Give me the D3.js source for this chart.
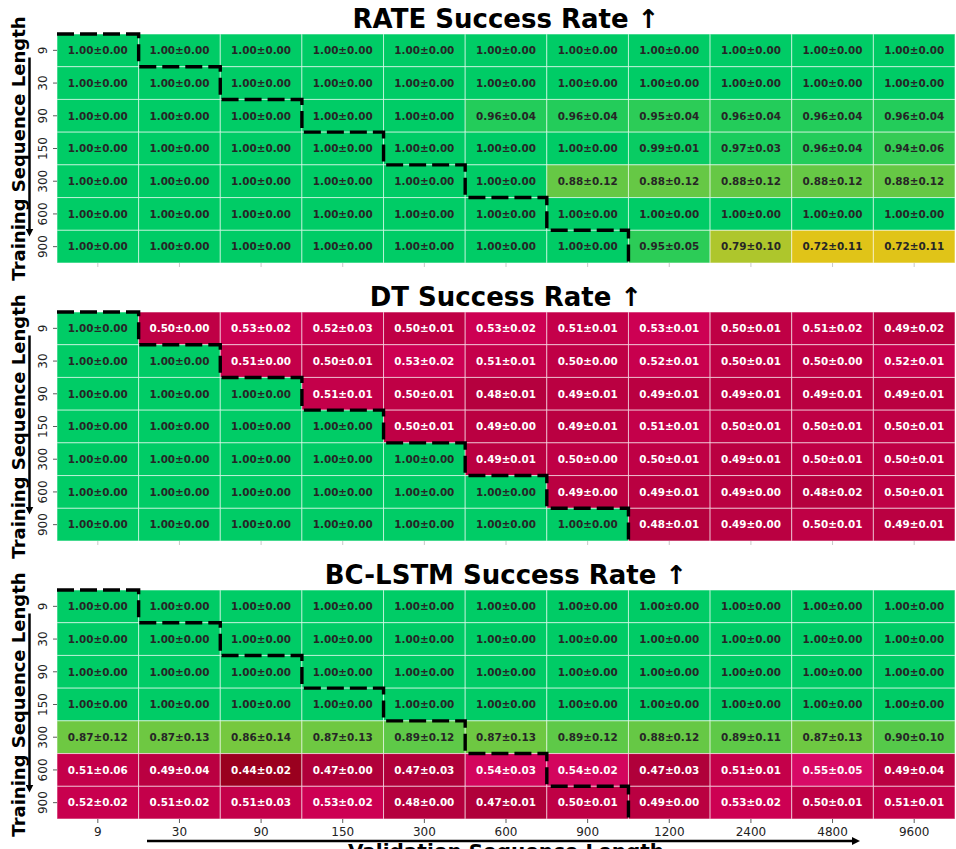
<!DOCTYPE html>
<html>
<head>
<meta charset="utf-8">
<script src="https://cdn.jsdelivr.net/npm/d3@7"></script>
<style>
  html, body { margin: 0; padding: 0; background: #fff; }
  svg { display: block; }
</style>
</head>
<body>
<svg id="chart" width="956" height="849"></svg>
<script>
// ---------- DATA ----------
const validationLengths = ["9", "30", "90", "150", "300", "600", "900", "1200", "2400", "4800", "9600"];
const trainingLengths = ["9", "30", "90", "150", "300", "600", "900"];
const panelTitles = ["RATE Success Rate \u2191", "DT Success Rate \u2191", "BC-LSTM Success Rate \u2191"];

const rateMean = [
  [1.00,1.00,1.00,1.00,1.00,1.00,1.00,1.00,1.00,1.00,1.00],
  [1.00,1.00,1.00,1.00,1.00,1.00,1.00,1.00,1.00,1.00,1.00],
  [1.00,1.00,1.00,1.00,1.00,0.96,0.96,0.95,0.96,0.96,0.96],
  [1.00,1.00,1.00,1.00,1.00,1.00,1.00,0.99,0.97,0.96,0.94],
  [1.00,1.00,1.00,1.00,1.00,1.00,0.88,0.88,0.88,0.88,0.88],
  [1.00,1.00,1.00,1.00,1.00,1.00,1.00,1.00,1.00,1.00,1.00],
  [1.00,1.00,1.00,1.00,1.00,1.00,1.00,0.95,0.79,0.72,0.72]
];
const rateStd = [
  [0,0,0,0,0,0,0,0,0,0,0],
  [0,0,0,0,0,0,0,0,0,0,0],
  [0,0,0,0,0,0.04,0.04,0.04,0.04,0.04,0.04],
  [0,0,0,0,0,0,0,0.01,0.03,0.04,0.06],
  [0,0,0,0,0,0,0.12,0.12,0.12,0.12,0.12],
  [0,0,0,0,0,0,0,0,0,0,0],
  [0,0,0,0,0,0,0,0.05,0.10,0.11,0.11]
];

const dtMean = [
  [1.00,0.50,0.53,0.52,0.50,0.53,0.51,0.53,0.50,0.51,0.49],
  [1.00,1.00,0.51,0.50,0.53,0.51,0.50,0.52,0.50,0.50,0.52],
  [1.00,1.00,1.00,0.51,0.50,0.48,0.49,0.49,0.49,0.49,0.49],
  [1.00,1.00,1.00,1.00,0.50,0.49,0.49,0.51,0.50,0.50,0.50],
  [1.00,1.00,1.00,1.00,1.00,0.49,0.50,0.50,0.49,0.50,0.50],
  [1.00,1.00,1.00,1.00,1.00,1.00,0.49,0.49,0.49,0.48,0.50],
  [1.00,1.00,1.00,1.00,1.00,1.00,1.00,0.48,0.49,0.50,0.49]
];
const dtStd = [
  [0,0.00,0.02,0.03,0.01,0.02,0.01,0.01,0.01,0.02,0.02],
  [0,0,0.00,0.01,0.02,0.01,0.00,0.01,0.01,0.00,0.01],
  [0,0,0,0.01,0.01,0.01,0.01,0.01,0.01,0.01,0.01],
  [0,0,0,0,0.01,0.00,0.01,0.01,0.01,0.01,0.01],
  [0,0,0,0,0,0.01,0.00,0.01,0.01,0.01,0.01],
  [0,0,0,0,0,0,0.00,0.01,0.00,0.02,0.01],
  [0,0,0,0,0,0,0,0.01,0.00,0.01,0.01]
];

const lstmMean = [
  [1.00,1.00,1.00,1.00,1.00,1.00,1.00,1.00,1.00,1.00,1.00],
  [1.00,1.00,1.00,1.00,1.00,1.00,1.00,1.00,1.00,1.00,1.00],
  [1.00,1.00,1.00,1.00,1.00,1.00,1.00,1.00,1.00,1.00,1.00],
  [1.00,1.00,1.00,1.00,1.00,1.00,1.00,1.00,1.00,1.00,1.00],
  [0.87,0.87,0.86,0.87,0.89,0.87,0.89,0.88,0.89,0.87,0.90],
  [0.51,0.49,0.44,0.47,0.47,0.54,0.54,0.47,0.51,0.55,0.49],
  [0.52,0.51,0.51,0.53,0.48,0.47,0.50,0.49,0.53,0.50,0.51]
];
const lstmStd = [
  [0,0,0,0,0,0,0,0,0,0,0],
  [0,0,0,0,0,0,0,0,0,0,0],
  [0,0,0,0,0,0,0,0,0,0,0],
  [0,0,0,0,0,0,0,0,0,0,0],
  [0.12,0.13,0.14,0.13,0.12,0.13,0.12,0.12,0.11,0.13,0.10],
  [0.06,0.04,0.02,0.00,0.03,0.03,0.02,0.03,0.01,0.05,0.04],
  [0.02,0.02,0.03,0.02,0.00,0.01,0.01,0.00,0.02,0.01,0.01]
];

const panelMeans = [rateMean, dtMean, lstmMean];
const panelStds = [rateStd, dtStd, lstmStd];

// ---------- LAYOUT ----------
const svg = d3.select("#chart");
const left = 57, right = 955;
const panelTops = [34, 312, 590];
const panelH = 229;
const font = "'DejaVu Sans', sans-serif";

const x = d3.scaleBand().domain(validationLengths).range([left, right]);

const color = d3.scaleLinear()
  .domain([0.44, 0.47, 0.50, 0.53, 0.55, 0.72, 0.79, 0.88, 0.95, 1.00])
  .range(["#9a001f", "#b0003a", "#bf0045", "#cd0053", "#d80a66", "#e0c418", "#aec62c", "#66c845", "#2ccc57", "#00cc66"])
  .clamp(true);

const defs = svg.append("defs");
defs.append("marker")
  .attr("id", "arrowDown").attr("viewBox", "0 0 10 10")
  .attr("refX", 5).attr("refY", 5).attr("markerWidth", 3.2).attr("markerHeight", 3.2)
  .attr("orient", "auto")
  .append("path").attr("d", "M0,0 L10,5 L0,10 z").attr("fill", "#000");

panelTitles.forEach((title, p) => {
  const top = panelTops[p];
  const y = d3.scaleBand().domain(trainingLengths).range([top, top + panelH]);
  const g = svg.append("g");
  const cells = [];
  trainingLengths.forEach((t, i) => validationLengths.forEach((v, j) => {
    cells.push({t, v, m: panelMeans[p][i][j], s: panelStds[p][i][j]});
  }));

  g.selectAll("rect.cell").data(cells).join("rect")
    .attr("class", "cell")
    .attr("x", d => x(d.v)).attr("y", d => y(d.t))
    .attr("width", x.bandwidth()).attr("height", y.bandwidth())
    .attr("fill", d => color(d.m))
    .attr("stroke", "rgba(255,255,255,0.55)").attr("stroke-width", 1);

  g.selectAll("text.val").data(cells).join("text")
    .attr("class", "val")
    .attr("x", d => x(d.v) + x.bandwidth() / 2)
    .attr("y", d => y(d.t) + y.bandwidth() / 2)
    .attr("dy", "0.36em")
    .attr("text-anchor", "middle")
    .attr("font-family", font).attr("font-weight", "bold").attr("font-size", "10.4px")
    .attr("fill", d => d.m < 0.65 ? "#ffffff" : "#262626")
    .text(d => d.m.toFixed(2) + "\u00b1" + d.s.toFixed(2));

  // staircase dashed line
  const pts = [];
  trainingLengths.forEach((t, i) => {
    const xs = x(validationLengths[i]);
    const xe = xs + x.bandwidth();
    pts.push([xs, y(t)]);
    pts.push([xe, y(t)]);
    pts.push([xe, y(t) + y.bandwidth()]);
  });
  g.append("path")
    .attr("d", d3.line()(pts))
    .attr("fill", "none").attr("stroke", "#000")
    .attr("stroke-width", 3.4).attr("stroke-dasharray", "17,6");

  // title
  svg.append("text")
    .attr("x", (left + right) / 2).attr("y", top - 6)
    .attr("text-anchor", "middle")
    .attr("font-family", font).attr("font-weight", "bold").attr("font-size", "26px")
    .attr("fill", "#000")
    .text(title);

  // y axis
  const yAxis = d3.axisLeft(y).tickSize(4).tickPadding(2);
  const ya = svg.append("g").attr("transform", `translate(${left},0)`).call(yAxis);
  ya.select(".domain").remove();
  ya.selectAll("line").attr("stroke", "#333").attr("stroke-width", 0.8);
  ya.selectAll("text")
    .attr("font-family", font).attr("font-size", "12px").attr("fill", "#222")
    .attr("x", null).attr("dy", null)
    .attr("text-anchor", "middle")
    .attr("transform", d => `translate(-14,${y(d) + y.bandwidth() / 2 - (y(d) + y.bandwidth() / 2)}) rotate(-90)`)
    .each(function() { d3.select(this).attr("dy", "0.35em"); });

  // x axis ticks
  const xAxis = d3.axisBottom(x).tickSize(4).tickPadding(4);
  const xa = svg.append("g").attr("transform", `translate(0,${top + panelH})`).call(xAxis);
  xa.select(".domain").remove();
  xa.selectAll("line").attr("stroke", p === 2 ? "#333" : "#bbb").attr("stroke-width", 0.8);
  xa.selectAll("text")
    .attr("font-family", font).attr("font-size", "12px").attr("fill", "#222");
  if (p !== 2) xa.selectAll("text").remove();

  // y label with arrow
  const cy = top + panelH / 2;
  svg.append("text")
    .attr("transform", `translate(25,${cy}) rotate(-90)`)
    .attr("text-anchor", "middle")
    .attr("font-family", font).attr("font-weight", "bold").attr("font-size", "18px")
    .attr("fill", "#000")
    .text("Training Sequence Length");
  svg.append("line")
    .attr("x1", 29.5).attr("x2", 29.5)
    .attr("y1", cy - 91).attr("y2", cy + 84)
    .attr("stroke", "#000").attr("stroke-width", 2.5)
    .attr("marker-end", "url(#arrowDown)");
});

// x label with arrow
svg.append("line")
  .attr("x1", 147).attr("x2", 856)
  .attr("y1", 841).attr("y2", 841)
  .attr("stroke", "#000").attr("stroke-width", 2.5)
  .attr("marker-end", "url(#arrowDown)");
svg.append("text")
  .attr("x", (left + right) / 2).attr("y", 858)
  .attr("text-anchor", "middle")
  .attr("font-family", font).attr("font-weight", "bold").attr("font-size", "20px")
  .attr("fill", "#000")
  .text("Validation Sequence Length");
</script>
</body>
</html>
